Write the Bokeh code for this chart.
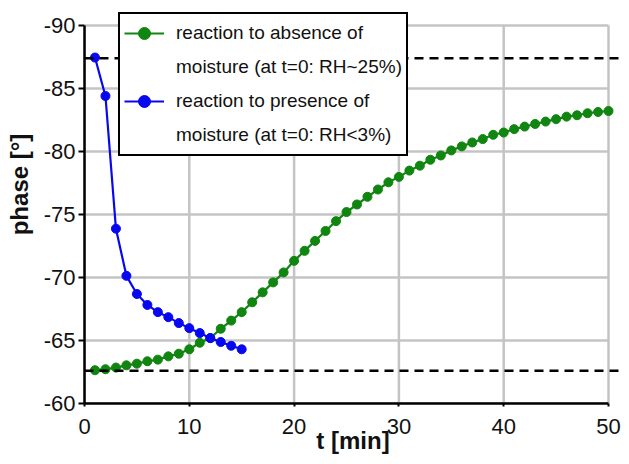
from bokeh.plotting import figure
from bokeh.models import Range1d, FixedTicker, Span, Legend, LegendItem
from bokeh.embed import file_html
from bokeh.resources import INLINE

# ---- data ----
blue_t = list(range(1, 16))
blue_phase = [-87.45, -84.4, -73.87, -70.13, -68.69, -67.82, -67.25, -66.85,
              -66.38, -65.98, -65.59, -65.19, -64.88, -64.58, -64.3]
green_t = list(range(1, 51))
green_phase = [-62.64, -62.72, -62.85, -63.03, -63.16, -63.35, -63.48, -63.74, -63.95, -64.3,
               -64.82, -65.19, -65.93, -66.58, -67.25, -68.03, -68.82, -69.61, -70.4, -71.32,
               -72.11, -72.9, -73.69, -74.47, -75.19, -75.79, -76.4, -76.98, -77.55, -77.98,
               -78.48, -78.87, -79.34, -79.68, -80.08, -80.4, -80.71, -80.98, -81.32, -81.5,
               -81.77, -81.97, -82.18, -82.37, -82.56, -82.76, -82.87, -83.03, -83.13, -83.21]
ref_levels = [-87.4, -62.6]
x_ticks = [0, 10, 20, 30, 40, 50]
x_tick_labels = ["0", "10", "20", "30", "40", "50"]
y_ticks = [-90, -85, -80, -75, -70, -65, -60]
y_tick_labels = ["-90", "-85", "-80", "-75", "-70", "-65", "-60"]
legend_labels = ["reaction to absence of", "moisture (at t=0: RH~25%)",
                 "reaction to presence of", "moisture (at t=0: RH<3%)"]

GREEN = "#108510"
BLUE = "#0808f0"
FONT = "Liberation Sans"

p = figure(width=621, height=456, output_backend="svg", toolbar_location=None,
           x_range=Range1d(0, 51.24), y_range=Range1d(-60, -91.579),
           min_border_top=5, min_border_right=0, min_border_left=84, min_border_bottom=51)
p.outline_line_color = None
p.xgrid.visible = False
p.ygrid.visible = False

# grid lines drawn from tick arrays
p.segment(x0=x_ticks, x1=x_ticks, y0=[y_ticks[-1]] * len(x_ticks), y1=[y_ticks[0]] * len(x_ticks),
          line_color="#c4c4c4", line_width=2.5)
p.segment(x0=[x_ticks[0]] * len(y_ticks), x1=[x_ticks[-1]] * len(y_ticks), y0=y_ticks, y1=y_ticks,
          line_color="#c4c4c4", line_width=2.5)

for lv in ref_levels:
    p.add_layout(Span(location=lv, dimension="width", line_color="black",
                      line_width=2.5, line_dash="9 6"))

gl = p.line(green_t, green_phase, line_color=GREEN, line_width=2.2)
gs = p.scatter(green_t, green_phase, size=9, fill_color=GREEN, line_color=GREEN)
bl = p.line(blue_t, blue_phase, line_color=BLUE, line_width=2.2)
bs = p.scatter(blue_t, blue_phase, size=9, fill_color=BLUE, line_color=BLUE)
dummy = p.line(x=[], y=[], line_alpha=0)

# axes
for ax in (p.xaxis[0], p.yaxis[0]):
    ax.axis_line_color = "black"
    ax.axis_line_width = 2.5
    ax.major_tick_line_color = "black"
    ax.major_tick_line_width = 2
    ax.minor_tick_line_color = None
    ax.major_tick_in = 0
    ax.major_label_text_font = FONT
    ax.major_label_text_font_size = "22px"
    ax.major_label_text_color = "#111111"
    ax.axis_label_text_font = FONT
    ax.axis_label_text_font_size = "24px"
    ax.axis_label_text_font_style = "bold"
    ax.axis_label_text_color = "#111111"

p.xaxis[0].ticker = FixedTicker(ticks=x_ticks)
p.xaxis[0].major_label_overrides = dict(zip(x_ticks, x_tick_labels))
p.xaxis[0].bounds = (x_ticks[0], x_ticks[-1])
p.xaxis[0].axis_label = "t [min]"
p.xaxis[0].major_tick_out = 3
p.xaxis[0].major_label_standoff = 12
p.xaxis[0].axis_label_standoff = -10

p.yaxis[0].ticker = FixedTicker(ticks=y_ticks)
p.yaxis[0].major_label_overrides = dict(zip(y_ticks, y_tick_labels))
p.yaxis[0].bounds = (y_ticks[0], y_ticks[-1])
p.yaxis[0].axis_label = "\u00a0" * 6 + "phase [°]"
p.yaxis[0].major_tick_out = 6
p.yaxis[0].major_label_standoff = 3
p.yaxis[0].axis_label_standoff = 8

legend = Legend(items=[
    LegendItem(label=legend_labels[0], renderers=[gl, gs]),
    LegendItem(label=legend_labels[1], renderers=[dummy]),
    LegendItem(label=legend_labels[2], renderers=[bl, bs]),
    LegendItem(label=legend_labels[3], renderers=[dummy]),
], location=(34, 247))
legend.padding = 4
legend.margin = 0
legend.spacing = 4
legend.glyph_width = 40
legend.glyph_height = 30
legend.label_height = 30
legend.label_width = 226
legend.label_standoff = 12
legend.label_text_font = FONT
legend.label_text_font_size = "19px"
legend.label_text_color = "#111111"
legend.border_line_color = "black"
legend.border_line_alpha = 1
legend.border_line_width = 2.5
legend.background_fill_color = "white"
legend.background_fill_alpha = 1
p.add_layout(legend, "center")

open("out.html", "w").write(file_html(p, INLINE))
